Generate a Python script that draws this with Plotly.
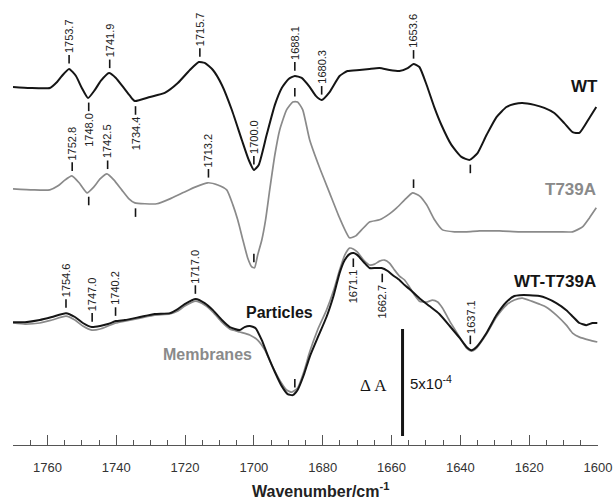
import numpy as np
import plotly.graph_objects as go

# ---------------- data (ΔA in units of 1e-4, relative to each trace's baseline) -------------
wt_wn = [1770.0, 1765.1, 1759.3, 1757.2, 1755.8, 1753.7, 1751.7, 1750.0, 1748.2, 1746.2,
         1744.5, 1742.1, 1740.1, 1737.8, 1736.0, 1734.6, 1730.2, 1725.9, 1722.1, 1718.6,
         1716.0, 1714.3, 1711.9, 1709.3, 1706.4, 1703.5, 1701.5, 1700.0, 1698.6, 1696.3,
         1693.9, 1691.9, 1689.9, 1688.1, 1686.1, 1683.8, 1682.0, 1680.3, 1678.0, 1675.1,
         1672.8, 1669.3, 1666.4, 1663.5, 1660.6, 1657.7, 1655.3, 1653.6, 1651.9, 1649.8,
         1647.5, 1645.5, 1642.6, 1639.7, 1637.3, 1635.0, 1632.4, 1629.5, 1626.6, 1624.3,
         1622.0, 1618.5, 1615.6, 1612.7, 1609.8, 1607.4, 1605.4, 1602.5, 1600.5]
wt_dA = [0.05, 0, 0, 0.28, 0.56, 0.89, 0.56, 0, -0.47, -0.09,
         0.33, 0.70, 0.47, 0, -0.37, -0.61, -0.42, -0.23, 0.23, 0.84,
         1.21, 1.17, 0.84, 0.14, -1.03, -2.43, -3.36, -3.83, -3.60, -2.20,
         -0.79, 0, 0.42, 0.56, 0.47, 0.05, -0.37, -0.56, -0.19, 0.56,
         0.79, 0.84, 0.89, 0.93, 0.84, 0.79, 0.93, 1.12, 0.98, 0.14,
         -0.93, -1.73, -2.66, -3.22, -3.36, -3.04, -2.20, -1.36, -0.89, -0.75,
         -0.70, -0.79, -0.93, -1.17, -1.64, -2.06, -2.10, -1.40, -0.89]

t739a_wn = [1770.0, 1764.2, 1759.3, 1756.9, 1755.2, 1752.9, 1750.8, 1748.5, 1746.5, 1744.7,
            1742.7, 1740.7, 1738.4, 1736.3, 1734.6, 1731.7, 1728.2, 1724.4, 1720.7, 1716.9,
            1713.4, 1710.5, 1707.9, 1706.1, 1704.7, 1703.2, 1701.8, 1700.6, 1699.8, 1698.9,
            1697.7, 1696.6, 1695.4, 1693.9, 1692.5, 1690.5, 1688.7, 1687.3, 1685.8, 1683.8,
            1680.9, 1678.0, 1675.1, 1672.2, 1670.4, 1668.7, 1666.4, 1663.5, 1660.6, 1658.5,
            1656.2, 1653.9, 1651.9, 1649.8, 1647.5, 1645.2, 1641.7, 1638.2, 1634.4, 1628.6,
            1622.8, 1617.0, 1611.2, 1607.4, 1604.5, 1602.5, 1600.5]
t739a_dA = [0.05, 0, 0, 0.19, 0.42, 0.65, 0.33, -0.14, 0.14, 0.51,
            0.75, 0.47, 0, -0.42, -0.61, -0.65, -0.65, -0.42, -0.14, 0.14,
            0.33, 0.23, 0, -0.70, -1.40, -2.34, -3.18, -3.60, -3.64, -3.04,
            -2.34, -1.40, 0, 1.64, 2.80, 3.74, 4.11, 4.11, 3.74, 2.34,
            1.03, -0.14, -1.31, -2.24, -2.15, -1.87, -1.50, -1.40, -1.12, -0.84,
            -0.47, -0.14, -0.28, -0.70, -1.40, -1.87, -1.96, -1.96, -1.92, -1.92,
            -1.96, -1.96, -1.96, -1.96, -1.73, -1.31, -0.84]

particles_wn = [1770.0, 1766.5, 1762.2, 1758.7, 1754.6, 1752.0, 1749.7, 1747.1, 1744.7, 1742.4,
                1740.1, 1737.5, 1733.1, 1728.8, 1724.4, 1722.1, 1720.1, 1716.9, 1714.3, 1711.9,
                1709.3, 1707.0, 1704.1, 1702.7, 1701.2, 1699.5, 1697.7, 1696.0, 1693.9, 1691.9,
                1690.2, 1688.7, 1687.3, 1685.5, 1683.8, 1681.5, 1678.9, 1676.8, 1675.1, 1673.6,
                1672.2, 1671.0, 1669.9, 1668.1, 1666.4, 1664.6, 1662.9, 1661.1, 1659.7, 1657.7,
                1656.2, 1654.8, 1651.9, 1649.0, 1646.1, 1643.1, 1640.2, 1638.2, 1636.8, 1635.3,
                1632.4, 1629.5, 1626.6, 1624.3, 1622.8, 1619.9, 1617.0, 1615.0, 1612.1, 1609.2,
                1607.2, 1605.4, 1603.4, 1601.6, 1600.2]
particles_dA = [-0.05, -0.05, 0.05, 0.19, 0.37, 0.19, -0.09, -0.28, -0.23, -0.14,
                0, 0.05, 0.19, 0.33, 0.37, 0.56, 0.79, 1.03, 0.84, 0.51,
                0.05, -0.28, -0.42, -0.28, -0.23, -0.33, -0.89, -1.59, -2.38, -3.04,
                -3.41, -3.46, -3.22, -2.52, -1.68, -0.79, 0.19, 1.21, 2.24, 2.85,
                3.13, 3.18, 3.08, 2.76, 2.48, 2.48, 2.48, 2.34, 2.15, 1.92,
                1.68, 1.50, 1.07, 0.70, 0.33, -0.23, -0.79, -1.21, -1.36, -1.21,
                -0.56, 0.28, 0.89, 1.17, 1.21, 1.21, 1.17, 1.07, 0.84, 0.51,
                0.19, -0.09, -0.19, -0.09, -0.09]

membranes_wn = [1770.0, 1766.5, 1762.2, 1758.7, 1754.6, 1752.0, 1749.7, 1747.1, 1744.7, 1742.4,
                1740.1, 1737.5, 1733.1, 1728.8, 1724.4, 1722.1, 1720.1, 1716.9, 1714.3, 1711.9,
                1709.3, 1707.0, 1704.1, 1701.2, 1698.9, 1696.8, 1694.8, 1692.5, 1690.5, 1689.0,
                1687.3, 1685.5, 1683.8, 1681.5, 1678.9, 1676.8, 1675.1, 1673.6, 1672.2, 1671.0,
                1669.9, 1668.1, 1666.4, 1664.9, 1663.5, 1662.0, 1660.6, 1659.1, 1657.7, 1656.2,
                1654.8, 1653.3, 1651.9, 1649.8, 1648.1, 1646.6, 1645.2, 1643.1, 1640.2, 1638.2,
                1636.8, 1635.3, 1632.4, 1629.5, 1626.6, 1624.3, 1622.0, 1619.3, 1617.0, 1615.0,
                1612.1, 1609.2, 1607.4, 1605.4, 1602.5, 1600.2]
membranes_dA = [-0.09, -0.14, -0.09, 0.05, 0.23, 0.05, -0.23, -0.42, -0.37, -0.23,
                -0.09, 0, 0.14, 0.28, 0.33, 0.47, 0.70, 0.93, 0.75, 0.42,
                -0.05, -0.37, -0.51, -0.65, -0.89, -1.36, -2.06, -2.76, -3.22, -3.32,
                -3.13, -2.38, -1.45, -0.42, 0.51, 1.45, 2.38, 3.08, 3.41, 3.36,
                3.22, 2.85, 2.62, 2.66, 2.80, 2.85, 2.71, 2.38, 2.10, 1.92,
                1.59, 1.21, 0.93, 0.89, 0.98, 0.89, 0.61, 0, -0.75, -1.26,
                -1.40, -1.26, -0.61, 0.19, 0.75, 0.98, 1.07, 0.93, 0.79, 0.65,
                0.28, -0.19, -0.56, -0.75, -0.89, -0.98]

# peak marks: (wavenumber, label, side)  side +1 = above curve, -1 = below
wt_marks = [(1753.7, "1753.7", 1), (1748.0, "1748.0", -1), (1741.9, "1741.9", 1),
            (1734.4, "1734.4", -1), (1715.7, "1715.7", 1), (1700.0, "1700.0", 1),
            (1688.1, "1688.1", 1), (1680.3, "1680.3", 1), (1653.6, "1653.6", 1),
            (1637.1, "", -1)]
t739a_marks = [(1752.8, "1752.8", 1), (1748.0, "", -1), (1742.5, "1742.5", 1),
               (1734.4, "", -1), (1713.2, "1713.2", 1), (1700.0, "", 1),
               (1688.1, "", 1), (1653.6, "", 1)]
diff_marks = [(1754.6, "1754.6", 1), (1747.0, "1747.0", 1), (1740.2, "1740.2", 1),
              (1717.0, "1717.0", 1), (1688.1, "", 1), (1671.1, "1671.1", -1),
              (1662.7, "1662.7", -1), (1637.1, "1637.1", 1)]

x_ticks = [1760, 1740, 1720, 1700, 1680, 1660, 1640, 1620, 1600]
SCALE_BAR_VALUE = 5  # ΔA = 5x10^-4

# ---------------- layout constants (positions / styles) ----------------
X_RANGE = [1770, 1600]
Y_RANGE = [0, 20.79]
OFF_WT, OFF_T739A, OFF_DIFF = 16.68, 11.92, 5.79
TICK_GAP, TICK_LEN = 0.25, 0.40
FONT = "Liberation Sans, Arial, sans-serif"
BLACK, GRAY = "#151515", "#8a8a8a"

fig = go.Figure()


def add_curve(wn, dA, off, color, width):
    fig.add_trace(go.Scatter(x=wn, y=np.array(dA) + off, mode="lines",
                             line=dict(color=color, width=width, shape="spline", smoothing=0.5),
                             hoverinfo="skip", showlegend=False))


add_curve(wt_wn, wt_dA, OFF_WT, BLACK, 2.0)
add_curve(t739a_wn, t739a_dA, OFF_T739A, GRAY, 1.7)
add_curve(membranes_wn, membranes_dA, OFF_DIFF, GRAY, 1.7)
add_curve(particles_wn, particles_dA, OFF_DIFF, BLACK, 2.0)


def add_marks(wn, dA, off, marks):
    xs = np.array(wn)[::-1]
    ys = np.array(dA)[::-1] + off
    tx, ty = [], []
    for w, label, side in marks:
        yc = float(np.interp(w, xs, ys))
        y0 = yc + side * TICK_GAP
        y1 = yc + side * (TICK_GAP + TICK_LEN)
        tx += [w, w, None]
        ty += [y0, y1, None]
        if label:
            fig.add_annotation(x=w, y=y1, text=label, textangle=-90, showarrow=False,
                               xanchor="center", yanchor="bottom" if side > 0 else "top",
                               yshift=side * 1, borderpad=0,
                               font=dict(family=FONT, size=11, color="#222"))
    fig.add_trace(go.Scatter(x=tx, y=ty, mode="lines", line=dict(color=BLACK, width=1.6),
                             hoverinfo="skip", showlegend=False))


add_marks(wt_wn, wt_dA, OFF_WT, wt_marks)
add_marks(t739a_wn, t739a_dA, OFF_T739A, t739a_marks)
add_marks(particles_wn, particles_dA, OFF_DIFF, diff_marks)

# trace labels
for txt, x, y, col, size, anchor, xs in [
    ("WT", 1600.0, 16.73, BLACK, 17, "right", 2),
    ("T739A", 1600.0, 11.92, GRAY, 17, "right", 0),
    ("WT-T739A", 1600.0, 7.62, BLACK, 17, "right", 0),
    ("Particles", 1692.5, 6.17, BLACK, 16, "center", 0),
    ("Membranes", 1713.4, 4.21, GRAY, 16, "center", 0),
]:
    fig.add_annotation(x=x, y=y, text=txt, showarrow=False, xanchor=anchor, yanchor="middle",
                       xshift=xs,
                       font=dict(family=FONT, size=size, color=col, weight="bold"))

# scale bar
SB_X, SB_Y0 = 1656.8, 0.42
fig.add_trace(go.Scatter(x=[SB_X, SB_X], y=[SB_Y0, SB_Y0 + SCALE_BAR_VALUE], mode="lines",
                         line=dict(color=BLACK, width=3), hoverinfo="skip", showlegend=False))
fig.add_annotation(x=1665.2, y=2.80, text="Δ A", showarrow=False, xanchor="center",
                   font=dict(family="Liberation Serif, Times New Roman, serif", size=17, color=BLACK))
fig.add_annotation(x=1655.3, y=2.90, text="5x10<sup>-4</sup>", showarrow=False, xanchor="left",
                   font=dict(family=FONT, size=15, color=BLACK))

# axis title
fig.add_annotation(xref="paper", yref="paper", x=0.525, y=-0.101, text="Wavenumber/cm<sup>-1</sup>",
                   showarrow=False, xanchor="center", yanchor="middle",
                   font=dict(family=FONT, size=16, color="#222", weight="bold"))

fig.update_layout(
    width=614, height=499,
    margin=dict(l=13, r=16, t=0, b=54),
    paper_bgcolor="white", plot_bgcolor="white",
    showlegend=False, hovermode=False,
    xaxis=dict(range=X_RANGE, tickvals=x_ticks, ticks="inside", ticklen=10, tickwidth=1,
               tickcolor="#555", showline=True, linecolor="#555", linewidth=1,
               showgrid=False, zeroline=False, ticklabelstandoff=10,
               tickfont=dict(family=FONT, size=13, color="#333"),
               minor=dict(dtick=5, tick0=1600, ticks="inside", ticklen=5, tickcolor="#555", showgrid=False)),
    yaxis=dict(range=Y_RANGE, visible=False, showgrid=False, zeroline=False),
)

fig.write_html("out.html")
